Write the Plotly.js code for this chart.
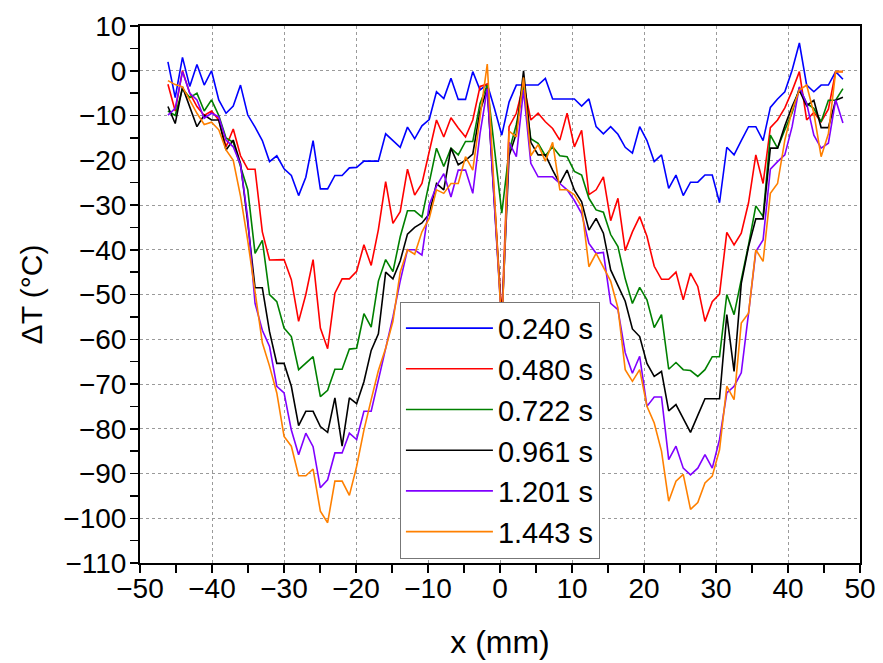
<!DOCTYPE html>
<html>
<head>
<meta charset="utf-8">
<script src="https://cdn.plot.ly/plotly-3.0.1.min.js"></script>
<style>html,body{margin:0;padding:0;background:#fff;}#chart{width:883px;height:663px;}</style>
</head>
<body>
<div id="chart"></div>
<script>
// Position along the line (mm)
const xPos = [-46.12,-45.11,-44.10,-43.09,-42.09,-41.08,-40.07,-39.06,-38.05,-37.05,-36.04,-35.03,-34.02,-33.01,-32.01,-31.00,-29.99,-28.98,-27.97,-26.97,-25.96,-24.95,-23.94,-22.93,-21.93,-20.92,-19.91,-18.90,-17.89,-16.89,-15.88,-14.87,-13.86,-12.85,-11.85,-10.84,-9.83,-8.82,-7.81,-6.81,-5.80,-4.79,-3.78,-2.77,-1.77,-0.76,0.25,1.26,2.27,3.27,4.28,5.29,6.30,7.31,8.31,9.32,10.33,11.34,12.35,13.35,14.36,15.37,16.38,17.39,18.39,19.40,20.41,21.42,22.43,23.43,24.44,25.45,26.46,27.47,28.47,29.48,30.49,31.50,32.51,33.51,34.52,35.53,36.54,37.55,38.55,39.56,40.57,41.58,42.59,43.59,44.60,45.61,46.62,47.63];

// Temperature change (°C) for each time
const dT_0240 = [2,-6,3,-3.5,1.4,-3.2,0,-6.5,-9.5,-7.9,-3.2,-9.9,-12.6,-15.6,-20.3,-19,-21.9,-23.4,-27.9,-23.8,-15.6,-26.4,-26.4,-23.4,-23.4,-21.7,-21.6,-20.2,-20.2,-20.2,-14.1,-15.6,-17.1,-12.6,-15.2,-12.3,-10.9,-4.7,-6.2,-1.7,-6.4,-6.4,-0.2,-4.3,-3,-8.5,-14.4,-7,-3.2,-3.2,-3.2,-3.2,-1.7,-6.3,-6.3,-6.3,-6.3,-7.9,-6.3,-12.5,-14.1,-12.5,-14.2,-17.1,-18.4,-12.5,-15.6,-20.3,-18.8,-26.3,-23.3,-27.9,-24.9,-24.9,-23.3,-23.3,-29.5,-17.1,-18.8,-15.6,-12.5,-12.5,-15.6,-8.2,-6.3,-4.7,0.1,6.2,-3.2,-4.7,-3.2,-3.2,-0.2,-1.9];
const dT_0480 = [-3,-9,0,-5,-8,-10,-9,-11,-17,-13,-19,-22,-22,-36,-42.3,-42.3,-42.2,-46.7,-56,-50,-42.2,-57.5,-62.1,-49.7,-46.5,-46.5,-44.8,-38.9,-43.5,-35.5,-24.8,-34.1,-31.5,-22,-27.8,-25.2,-18,-11,-14.8,-10.5,-12.8,-14.8,-11,-3.5,-3,-28,-55,-12.5,-9.5,-3,-11,-9.5,-11.4,-12.9,-15.5,-9.5,-17,-13.3,-27.7,-26.6,-23.7,-33.5,-28.5,-40.2,-36,-32.6,-37,-43.7,-46.6,-46.6,-45,-51.2,-45.2,-48.2,-56,-51.6,-49.9,-36.1,-38.9,-36.3,-29.5,-18.8,-25.2,-12.7,-11,-8.3,-4.5,-0.2,-11,-9.3,-11.4,-8.6,-0.2,-0.2];
const dT_0722 = [-9,-10,-4,-6,-5,-9,-6.5,-10,-15,-16,-21.4,-26.6,-40.8,-37.9,-50,-51.6,-57.5,-59.4,-66.8,-65.4,-63.9,-72.8,-71.4,-66.7,-66.7,-62.2,-62,-54.3,-57.3,-47,-42.2,-44.9,-37.1,-31.3,-31.3,-32.7,-25.2,-17.3,-21.4,-17.3,-18.8,-15.8,-15.8,-7.3,-3.2,-17,-31.8,-18,-12,-3.6,-15.2,-16.2,-19,-17,-19,-19.2,-22.5,-23.3,-28.5,-31.1,-31.6,-36.6,-39.3,-46.5,-52,-48.4,-51.2,-57.4,-54.5,-66.7,-65.2,-66.8,-67,-68.3,-66.8,-63.9,-63.9,-50,-54.5,-46.7,-38.9,-30.2,-32.6,-14.4,-17.3,-13.2,-9.4,-3.8,-7.3,-8.4,-11.4,-6.6,-6.6,-4];
const dT_0961 = [-8,-11.8,-3.6,-8,-12.5,-9.9,-11,-11,-17.7,-15.5,-20.7,-34,-48.5,-48.5,-58.3,-65.4,-65.4,-70.5,-79.3,-76.1,-76.1,-79.5,-80.8,-73.1,-83.9,-73.1,-74.4,-69.5,-62.5,-58.8,-45,-46.5,-42.5,-36.5,-35,-34,-32,-25.2,-26.6,-17.3,-21,-20,-18.6,-9,-4,-30,-56,-19,-14,0,-16,-18.8,-18.8,-22.2,-25.2,-22.2,-26.7,-29.3,-35.6,-33,-36.3,-44.5,-48,-51.5,-57.7,-59.4,-65.4,-68.3,-67.2,-76,-74.6,-77.7,-80.8,-77,-73.3,-73.3,-73.3,-54.5,-67.2,-47.5,-39.3,-33.1,-33.1,-17.3,-17.3,-12.3,-8,-4.4,-7.8,-6.6,-12.7,-12.7,-6.6,-5.9];
const dT_1201 = [-9.9,-8.4,-0.2,-5,-6.5,-10.6,-9.5,-10.3,-15.5,-17,-21,-33,-52,-58,-61.6,-70.5,-72,-80.3,-85.8,-81,-84,-93.2,-91.4,-85.4,-85.4,-81,-82.4,-76.1,-76.1,-69,-62,-55,-47,-40,-40,-41.2,-30,-25.8,-23,-28.2,-22.2,-22.2,-27.4,-14,-4,-30,-57,-16,-19.2,-4.3,-20.7,-23.7,-23.7,-23.7,-25.2,-26.6,-29,-31.9,-38.6,-40.8,-40.6,-52,-53.4,-63,-67.6,-63.8,-75,-72.9,-72.9,-86.9,-83.9,-88.8,-90.3,-88.8,-85.8,-88.8,-82.4,-72,-70.5,-67.5,-54.2,-40.4,-37.8,-22,-20.3,-18.8,-12.5,-3.6,-7.3,-14.4,-17.3,-16.2,-6.5,-11.7];
const dT_1443 = [-2.2,-3.1,-3.6,-6.5,-9.5,-12,-11.5,-13.2,-17.7,-20,-28,-38,-49,-60.8,-66,-72,-81.7,-83.9,-90.5,-90.5,-89,-98.4,-101,-91.7,-91.7,-94.9,-88.4,-80.3,-73.5,-67,-62,-56,-45,-40,-41,-36,-33,-26.6,-27.4,-25.2,-25.2,-19.2,-22.2,-10,1.5,-28,-58,-13.5,-14.8,-1.5,-19,-16.5,-20.2,-16,-26.6,-26.6,-27.7,-30.4,-43.8,-40.8,-44,-47,-53,-66.8,-69.4,-66.8,-75,-78.7,-85,-96.2,-91.7,-90.2,-98,-96.5,-92.1,-90.6,-84.7,-70.5,-73.5,-56.4,-54.2,-40,-42.6,-27.4,-25.2,-15.5,-8.8,-4.3,-3.2,-9.5,-19.2,-14.1,-0.2,-0.2];

const seriesNames = ["0.240 s","0.480 s","0.722 s","0.961 s","1.201 s","1.443 s"];
const seriesData = [dT_0240, dT_0480, dT_0722, dT_0961, dT_1201, dT_1443];
const seriesColors = ["#0000FF","#FF0000","#008000","#000000","#8000FF","#FF8000"];

// Tick labels
const xTickVals = [-50,-40,-30,-20,-10,0,10,20,30,40,50];
const xTickText = ["\u221250","\u221240","\u221230","\u221220","\u221210","0","10","20","30","40","50"];
const xMinorVals = [-45,-35,-25,-15,-5,5,15,25,35,45];
const yTickVals = [10,0,-10,-20,-30,-40,-50,-60,-70,-80,-90,-100,-110];
const yTickText = ["10","0","\u221210","\u221220","\u221230","\u221240","\u221250","\u221260","\u221270","\u221280","\u221290","\u2212100","\u2212110"];
const yMinorVals = [5,-5,-15,-25,-35,-45,-55,-65,-75,-85,-95,-105];

const traces = seriesData.map((d, i) => ({
  x: xPos, y: d, type: 'scatter', mode: 'lines',
  name: seriesNames[i], legendgroup: 'g' + i,
  line: {color: seriesColors[i], width: 1.6}
}));

const FONT = 'Liberation Sans, Arial, sans-serif';
const axisCommon = {
  showline: true, linecolor: '#000', linewidth: 2, mirror: true,
  ticks: 'outside', ticklen: 8, tickwidth: 1.5, tickcolor: '#000',
  showgrid: true, gridcolor: '#9a9a9a', gridwidth: 1, griddash: 'dot',
  zeroline: false, tickmode: 'array',
  tickfont: {family: FONT, size: 28, color: '#000'}
};

const layout = {
  width: 883, height: 663,
  margin: {l: 140, r: 23, t: 26, b: 100},
  paper_bgcolor: '#fff', plot_bgcolor: '#fff',
  showlegend: true,
  xaxis: Object.assign({}, axisCommon, {
    range: [-50, 50], tickvals: xTickVals, ticktext: xTickText,
    ticklabelstandoff: -9,
    minor: {tickmode: 'array', tickvals: xMinorVals, ticks: 'outside', ticklen: 8, tickwidth: 1.5, tickcolor: '#000', showgrid: false},
    title: {text: 'x (mm)', font: {family: FONT, size: 32, color: '#000'}, standoff: 28}
  }),
  yaxis: Object.assign({}, axisCommon, {
    range: [-110, 10], tickvals: yTickVals, ticktext: yTickText,
    ticklabelstandoff: -2,
    minor: {tickmode: 'array', tickvals: yMinorVals, ticks: 'outside', ticklen: 8, tickwidth: 1.5, tickcolor: '#000', showgrid: false},
    title: {text: 'ΔT (°C)', font: {family: FONT, size: 30, color: '#000'}, standoff: 12}
  }),
  legend: {
    x: 0.361, y: 0.4865, xanchor: 'left', yanchor: 'top',
    bgcolor: '#fff', bordercolor: '#777', borderwidth: 1,
    font: {family: FONT, size: 29, color: '#000'},
    itemwidth: 87, tracegroupgap: 0
  }
};

Plotly.newPlot('chart', traces, layout, {displayModeBar: false, staticPlot: true});
</script>
</body>
</html>
